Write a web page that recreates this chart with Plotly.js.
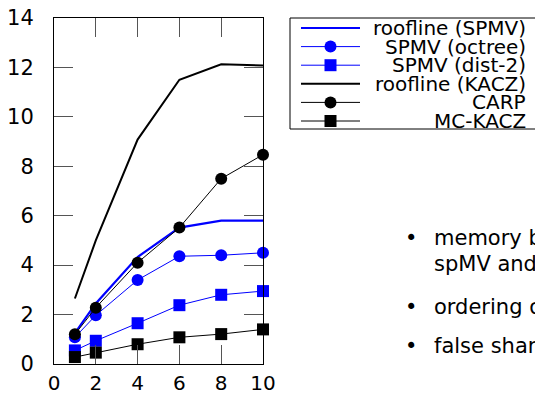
<!DOCTYPE html>
<html><head><meta charset="utf-8">
<script src="https://cdn.plot.ly/plotly-3.0.1.min.js"></script>
<style>html,body{margin:0;padding:0;overflow:hidden;background:#fff}</style>
</head><body><div id="chart" style="width:535px;height:396px"></div>
<script>
// ---- data ----
const threads = [1, 2, 4, 6, 8, 10];
const rooflineSpmv = [1.25, 2.45, 4.33, 5.52, 5.8, 5.8];
const spmvOctree = [1.08, 1.97, 3.4, 4.36, 4.4, 4.5];
const spmvDist2 = [0.55, 0.94, 1.65, 2.38, 2.8, 2.95];
const rooflineKacz = [2.65, 5.0, 9.08, 11.5, 12.13, 12.08];
const carp = [1.2, 2.28, 4.1, 5.52, 7.5, 8.47];
const mcKacz = [0.28, 0.46, 0.8, 1.08, 1.21, 1.4];
const seriesNames = ['roofline (SPMV)', 'SPMV (octree)', 'SPMV (dist-2)', 'roofline (KACZ)', 'CARP', 'MC-KACZ'];
const xTicks = [0, 2, 4, 6, 8, 10];
const yTicks = [0, 2, 4, 6, 8, 10, 12, 14];
const bulletLines = ['memory bound', 'spMV and', 'ordering of', 'false sharing'];

// ---- styles ----
const BLUE = '#0000ff', BLACK = '#000000';
const FONT = 'DejaVu Sans, sans-serif';
const seriesValues = [rooflineSpmv, spmvOctree, spmvDist2, rooflineKacz, carp, mcKacz];
const styles = [
  {color: BLUE, width: 2.2, symbol: null},
  {color: BLUE, width: 1, symbol: 'circle'},
  {color: BLUE, width: 1, symbol: 'square'},
  {color: BLACK, width: 2, symbol: null},
  {color: BLACK, width: 1, symbol: 'circle'},
  {color: BLACK, width: 1, symbol: 'square'}
];

const traces = seriesValues.map((vals, i) => {
  const s = styles[i];
  const t = {
    x: threads, y: vals, name: seriesNames[i], type: 'scatter',
    mode: s.symbol ? 'lines+markers' : 'lines',
    line: {color: s.color, width: s.width},
    cliponaxis: false, showlegend: false, hoverinfo: 'skip'
  };
  if (s.symbol) t.marker = {symbol: s.symbol, size: 12, color: s.color, line: {width: 0}};
  return t;
});

// plot area in pixels
const L = 54, R = 263, T = 18, B = 364;
const px = x => (x - L) / (R - L);
const py = y => (B - y) / (B - T);

const shapes = [];
const annotations = [];

// manual legend (compact rows as in reference)
const legRowY = [28, 46.6, 65.2, 83.8, 102.4, 121];
shapes.push({type: 'rect', xref: 'paper', yref: 'paper', x0: px(290), x1: px(545), y0: py(129), y1: py(18),
  line: {color: BLACK, width: 1}, fillcolor: 'rgba(0,0,0,0)', layer: 'above'});
seriesNames.forEach((name, i) => {
  const s = styles[i];
  const yy = py(legRowY[i]);
  shapes.push({type: 'line', xref: 'paper', yref: 'paper', x0: px(301), x1: px(360), y0: yy, y1: yy,
    line: {color: s.color, width: s.width}});
  if (s.symbol) {
    shapes.push({type: s.symbol === 'circle' ? 'circle' : 'rect', xref: 'paper', yref: 'paper',
      xsizemode: 'pixel', ysizemode: 'pixel', xanchor: px(330.5), yanchor: yy,
      x0: -6, x1: 6, y0: -6, y1: 6, fillcolor: s.color, line: {width: 0}});
  }
  annotations.push({xref: 'paper', yref: 'paper', x: px(528), y: yy, xanchor: 'right', yanchor: 'middle',
    text: name, showarrow: false, font: {family: FONT, size: 20, color: BLACK}});
});

// bullet text on the right
const bulletY = [238, 264, 307, 346];
const hasBullet = [true, false, true, true];
bulletLines.forEach((txt, i) => {
  if (hasBullet[i]) annotations.push({xref: 'paper', yref: 'paper', x: px(411), y: py(bulletY[i]),
    xanchor: 'center', yanchor: 'middle', text: '•', showarrow: false, font: {family: FONT, size: 21, color: BLACK}});
  annotations.push({xref: 'paper', yref: 'paper', x: px(432), y: py(bulletY[i]), xanchor: 'left', yanchor: 'middle',
    text: txt, showarrow: false, font: {family: FONT, size: 21, color: BLACK}});
});

const axisCommon = {
  ticks: 'inside', ticklen: 19, tickwidth: 1, tickcolor: '#555',
  showline: true, linecolor: BLACK, linewidth: 1, mirror: 'ticks',
  showgrid: false, zeroline: false, fixedrange: true,
  tickfont: {family: FONT, size: 21, color: BLACK}
};

const layout = {
  width: 535, height: 396,
  margin: {l: L, r: 535 - R, t: T, b: 396 - B, pad: 0},
  paper_bgcolor: '#fff', plot_bgcolor: '#fff',
  showlegend: false,
  xaxis: Object.assign({}, axisCommon, {range: [0, 10], tickvals: xTicks, ticktext: xTicks.map(String),
    ticklabelstandoff: 1, tickfont: {family: FONT, size: 20, color: BLACK}}),
  yaxis: Object.assign({}, axisCommon, {range: [0, 14], tickvals: yTicks, ticktext: yTicks.map(String), ticklabelstandoff: 15}),
  shapes: shapes,
  annotations: annotations
};

Plotly.newPlot('chart', traces, layout, {staticPlot: true, displayModeBar: false});
</script>
</body></html>
